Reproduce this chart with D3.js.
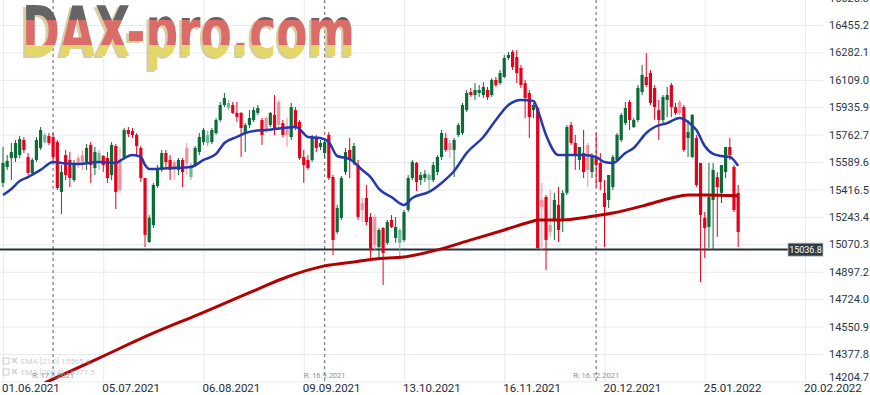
<!DOCTYPE html>
<html>
<head>
<meta charset="utf-8">
<script src="https://cdn.jsdelivr.net/npm/d3@7"></script>
<style>
  body { margin: 0; background: #fff; }
  text { font-family: Roboto, "Noto Sans", sans-serif; }
</style>
</head>
<body>
<div id="canvas"></div>
<script>
// x axis: trading-day index of each date label
const dateIdx = [0, 24, 48, 72, 96, 120, 144, 168, 192];
const dateLabels = ["01.06.2021", "05.07.2021", "06.08.2021", "09.09.2021", "13.10.2021",
  "16.11.2021", "20.12.2021", "25.01.2022", "20.02.2022"];

const yTicks = [14204.7, 14377.8, 14550.9, 14724.0, 14897.2, 15070.3, 15243.4, 15416.5,
  15589.6, 15762.7, 15935.9, 16109.0, 16282.1, 16455.2, 16628.3];

// daily candles, one per trading day from 01.06.2021
const open = [
  15458,15559,15615,15615,15634,15729,15622,15521,15603,15679,
  15716,15754,15748,15716,15401,15634,15603,15476,15615,15634,
  15584,15698,15552,15590,15628,15615,15508,15691,15603,15622,
  15792,15786,15761,15679,15489,15085,15192,15439,15540,15647,
  15603,15590,15540,15603,15679,15495,15571,15653,15716,15710,
  15716,15773,15855,15950,15931,15950,15900,15900,15779,15824,
  15855,15900,15855,15868,15824,15887,15969,15836,15811,15748,
  15918,15843,15622,15603,15603,15748,15685,15647,15761,15495,
  15148,15237,15527,15666,15590,15571,15331,15363,15243,15243,
  15053,15173,15079,15224,15111,15079,15098,15287,15489,15584,
  15476,15489,15476,15476,15527,15622,15742,15710,15666,15761,
  15773,15918,16032,16013,16026,16013,16045,16013,16108,16089,
  16127,16247,16285,16253,16184,16089,16026,15918,15931,15350,
  15369,15192,15224,15319,15224,15395,15824,15710,15603,15647,
  15698,15527,15615,15584,15395,15350,15432,15603,15729,15836,
  15969,15811,15855,16032,16127,16152,16057,15918,15855,15982,
  16076,15937,15969,15937,15742,15622,15742,15584,15237,15180,
  15350,15495,15395,15527,15685,15559,15395
];
const high = [
  15685,15634,15710,15729,15754,15748,15647,15615,15748,15811,
  15773,15773,15773,15729,15571,15666,15653,15603,15634,15666,
  15704,15716,15685,15666,15634,15653,15716,15704,15685,15805,
  15811,15805,15773,15691,15489,15255,15458,15571,15666,15666,
  15634,15603,15615,15615,15710,15584,15691,15773,15805,15786,
  15805,15868,15969,16026,15982,15969,15969,15906,15836,15918,
  15937,15950,15868,15881,15906,16013,15982,15855,15868,15963,
  15937,15855,15666,15634,15761,15761,15729,15729,15779,15508,
  15319,15502,15679,15742,15710,15603,15363,15445,15268,15255,
  15173,15180,15224,15255,15243,15173,15287,15508,15603,15590,
  15527,15540,15521,15590,15634,15792,15773,15729,15742,15836,
  15963,16045,16057,16089,16076,16095,16064,16120,16127,16171,
  16266,16285,16297,16297,16203,16108,16045,15963,15944,15458,
  15382,15413,15395,15432,15413,15824,15843,15761,15685,15792,
  15710,15647,15773,15647,15476,15508,15634,15773,15900,15969,
  15982,15868,16076,16203,16278,16171,16076,15982,16013,16064,
  16089,15963,15982,15950,15855,15893,15761,15584,15274,15584,
  15584,15527,15571,15685,15742,15571,15445
];
const low = [
  15432,15540,15476,15590,15615,15647,15508,15508,15590,15666,
  15710,15698,15584,15413,15262,15476,15432,15464,15552,15540,
  15540,15458,15508,15540,15527,15458,15476,15293,15395,15603,
  15748,15742,15634,15464,15053,15079,15173,15426,15527,15552,
  15476,15476,15508,15432,15508,15476,15559,15634,15698,15691,
  15704,15761,15843,15937,15918,15893,15843,15622,15653,15805,
  15843,15887,15698,15773,15811,15761,15792,15748,15685,15729,
  15792,15603,15458,15540,15590,15653,15666,15615,15476,15003,
  15136,15224,15508,15489,15571,15224,15211,15192,14984,15035,
  14984,14814,15066,15173,15079,14990,15085,15274,15476,15407,
  15445,15464,15413,15464,15508,15603,15653,15615,15495,15748,
  15761,15906,16001,15982,16001,15994,15982,16001,16064,16076,
  16120,16234,16171,16089,16057,15868,15742,15868,15035,15035,
  14908,15117,15098,15085,15148,15382,15698,15540,15540,15489,
  15432,15489,15432,15413,15053,15300,15413,15590,15716,15824,
  15792,15805,15843,16013,16064,15950,15855,15729,15836,15874,
  15874,15887,15887,15653,15622,15615,15432,14832,14984,15047,
  15035,15117,15331,15489,15603,15274,15053
];
const close = [
  15584,15597,15653,15710,15735,15666,15521,15603,15729,15792,
  15761,15710,15622,15426,15527,15508,15489,15571,15578,15584,
  15679,15571,15653,15647,15571,15489,15698,15401,15413,15792,
  15767,15761,15691,15489,15130,15237,15445,15552,15647,15590,
  15540,15540,15603,15527,15584,15571,15679,15748,15792,15761,
  15792,15855,15950,15994,15963,15900,15874,15805,15824,15868,
  15918,15931,15761,15792,15900,15792,15824,15761,15761,15937,
  15811,15615,15571,15552,15742,15679,15710,15716,15489,15098,
  15300,15489,15653,15603,15691,15243,15287,15211,15035,15066,
  15161,15016,15211,15180,15180,15161,15274,15489,15590,15464,
  15508,15515,15508,15571,15622,15773,15666,15666,15729,15824,
  15950,16026,16013,16045,16045,16064,16001,16108,16076,16152,
  16247,16266,16190,16152,16076,15994,15874,15950,15047,15306,
  15098,15148,15350,15161,15395,15811,15710,15634,15685,15527,
  15540,15634,15571,15464,15306,15508,15622,15761,15887,15931,
  15855,15855,16057,16140,16076,15963,15937,15855,16001,16013,
  15937,15900,15900,15666,15779,15887,15445,15255,15173,15369,
  15540,15432,15571,15685,15634,15287,15148
];

// EMA lines at these day indexes
const ema21Idx = [0,2,4,6,9,12,14,18,23,27,29,31,33,34,35,40,45,48,51,53,56,58,60,63,67,70,71,73,76,78,
  80,83,86,88,90,93,96,98,102,105,108,111,115,118,121,124,127,128,130,133,135,139,142,144,146,149,151,
  154,156,159,162,164,166,168,170,172,174,176];
const ema21 = [15382,15420,15470,15495,15540,15590,15584,15578,15590,15584,15615,15634,15622,15571,15546,
  15552,15559,15603,15641,15710,15748,15773,15786,15792,15805,15811,15798,15748,15742,15716,
  15628,15609,15540,15495,15420,15369,15319,15363,15401,15458,15533,15647,15748,15855,15950,15982,
  15976,15918,15761,15634,15634,15634,15622,15590,15584,15647,15679,15773,15811,15836,15868,15843,
  15792,15691,15641,15628,15622,15565.6];
const ema200Idx = [10,23,35,47,61,68,77,84,89,96,104,112,120,127,128,134,140,146,154,160,164,168,176];
const ema200 = [14195,14352,14498,14630,14788,14864,14934,14959,14978,14990,15035,15098,15161,15218,
  15224,15224,15243,15268,15319,15363,15382,15382,15377.5];

const lastLevel = 15036.8;
const rollIdx = [12, 77, 142];
const rollLabels = ["R: 17.6.2021", "R: 16.9.2021", "R: 16.12.2021"];
const legendNames = ["EMA [21,0]", "EMA [200,0]"];
const legendValues = [15565.6, 15377.5];

const width = 870;
const height = 395;
const plotRight = 823;
const plotBottom = 382;

const svg = d3.select("#canvas").append("svg")
  .attr("width", width)
  .attr("height", height);

const x = d3.scaleLinear().domain([0, 192]).range([3, 805]);
const y = d3.scaleLinear().domain([14204.7, 16455.2]).range([381.4, 25]);

svg.append("clipPath").attr("id", "plot")
  .append("rect").attr("x", 0).attr("y", 0).attr("width", plotRight).attr("height", plotBottom);

// horizontal grid + price labels
const yAxis = svg.append("g")
  .attr("transform", `translate(${plotRight},0)`)
  .call(d3.axisRight(y).tickValues(yTicks).tickSize(-plotRight).tickPadding(6).tickFormat(d => d.toFixed(1)));
yAxis.select(".domain").remove();
yAxis.selectAll("line").attr("stroke", "#e7eaee");
yAxis.selectAll("text")
  .attr("fill", "#2a3846")
  .style("font-size", "11px")
  .attr("y", d => Math.min(y(d), 377) - y(d));

// vertical grid + dates
const xAxis = svg.append("g")
  .attr("transform", `translate(0,${plotBottom})`)
  .call(d3.axisBottom(x).tickValues(dateIdx).tickSize(-plotBottom).tickPadding(2).tickFormat((d, i) => dateLabels[i]));
xAxis.select(".domain").remove();
xAxis.selectAll("line").attr("stroke", "#e7eaee");
xAxis.selectAll("text")
  .attr("text-anchor", "start")
  .attr("x", -1.5)
  .attr("fill", "#1e2b38")
  .style("font-size", "11.5px");

const g = svg.append("g").attr("clip-path", "url(#plot)");

// contract roll markers
g.selectAll(".roll").data(rollIdx).enter().append("line")
  .attr("x1", d => x(d)).attr("x2", d => x(d))
  .attr("y1", 0).attr("y2", plotBottom)
  .attr("stroke", "#858585").attr("stroke-width", 1.3).attr("stroke-dasharray", "3,3");
svg.selectAll(".rollText").data(rollIdx).enter().append("text")
  .attr("x", d => x(d)).attr("y", 378)
  .attr("text-anchor", "middle")
  .attr("fill", "#8a8f96")
  .style("font-size", "7.5px")
  .text((d, i) => rollLabels[i]);

// legend (faint)
const leg = svg.append("g").attr("opacity", 0.5);
legendNames.forEach((n, i) => {
  const ly = 364 + i * 11;
  leg.append("rect").attr("x", 3).attr("y", ly - 6).attr("width", 6).attr("height", 6)
    .attr("fill", "none").attr("stroke", "#98a4b0");
  leg.append("path").attr("d", `M12,${ly - 6}l5,5m0,-5l-5,5`).attr("stroke", "#98a4b0").attr("stroke-width", 1.2);
  leg.append("text").attr("x", 21).attr("y", ly).attr("fill", "#98a4b0")
    .style("font-size", "8px").text(`${n} ${legendValues[i].toFixed(1)}`);
});

// support line
g.append("line")
  .attr("x1", 0).attr("x2", 788)
  .attr("y1", y(lastLevel)).attr("y2", y(lastLevel))
  .attr("stroke", "#25323b").attr("stroke-width", 2);

// candles
const idx = d3.range(close.length);
const candleColor = i => {
  const up = close[i] >= open[i];
  const prev = i > 0 ? close[i - 1] : open[i];
  const same = up === (close[i] >= prev);
  if (up) return same ? "#0d6b37" : "#72b893";
  return same ? "#e5001c" : "#f2919b";
};
const candles = g.selectAll(".candle").data(idx).enter().append("g");
candles.append("line")
  .attr("x1", i => x(i)).attr("x2", i => x(i))
  .attr("y1", i => y(high[i])).attr("y2", i => y(low[i]))
  .attr("stroke", candleColor).attr("stroke-width", 1);
candles.append("rect")
  .attr("x", i => x(i) - 1.6)
  .attr("width", 3.2)
  .attr("y", i => y(Math.max(open[i], close[i])))
  .attr("height", i => Math.max(1, Math.abs(y(open[i]) - y(close[i]))))
  .attr("fill", candleColor);

// EMAs
const line = d3.line().curve(d3.curveMonotoneX);
g.append("path")
  .attr("d", line(ema200Idx.map((d, i) => [x(d), y(ema200[i])])))
  .attr("fill", "none").attr("stroke", "#b30000").attr("stroke-width", 3);
g.append("path")
  .attr("d", line(ema21Idx.map((d, i) => [x(d), y(ema21[i])])))
  .attr("fill", "none").attr("stroke", "#2438b0").attr("stroke-width", 2.5);

// last level tag
const tag = svg.append("g").attr("transform", `translate(788,${y(lastLevel) - 6.5})`);
tag.append("rect").attr("width", 35).attr("height", 13).attr("fill", "#2e3c45")
  .attr("stroke", "#b8c0c6").attr("stroke-width", 0.8);
tag.append("text").attr("x", 17.5).attr("y", 9.5).attr("text-anchor", "middle")
  .attr("fill", "#fff").style("font-size", "9px").text(lastLevel.toFixed(1));

// watermark logo
const defs = svg.append("defs");
const grad = defs.append("linearGradient").attr("id", "flag")
  .attr("gradientUnits", "userSpaceOnUse").attr("x1", 0).attr("y1", 5).attr("x2", 0).attr("y2", 63);
[[0, "#585858"], [0.26, "#585858"], [0.26, "#d9605e"], [0.69, "#d9605e"], [0.69, "#e2d45c"], [1, "#e2d45c"]]
  .forEach(s => grad.append("stop").attr("offset", s[0]).attr("stop-color", s[1]));
const logo = svg.append("g").attr("opacity", 0.92);
logo.append("text").attr("x", 19).attr("y", 58)
  .attr("textLength", 334).attr("lengthAdjust", "spacingAndGlyphs")
  .style("font-family", "'DejaVu Sans', sans-serif").style("font-weight", "bold").style("font-size", "70px")
  .attr("fill", "#d3c999").text("DAX-pro.com");
logo.append("text").attr("x", 22).attr("y", 56)
  .attr("textLength", 333).attr("lengthAdjust", "spacingAndGlyphs")
  .style("font-family", "'DejaVu Sans', sans-serif").style("font-weight", "bold").style("font-size", "70px")
  .attr("fill", "url(#flag)").text("DAX-pro.com");
</script>
</body>
</html>
